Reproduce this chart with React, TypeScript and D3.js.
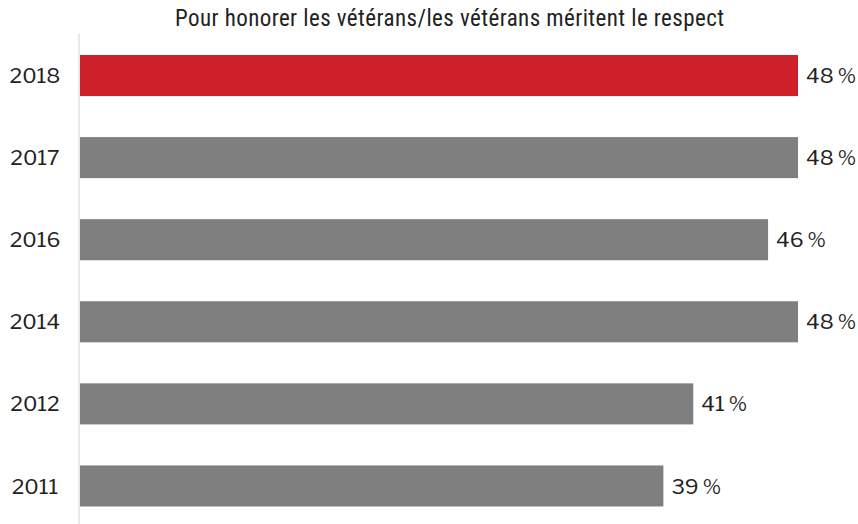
import React from "react";
import * as d3 from "d3";

const years = ["2018", "2017", "2016", "2014", "2012", "2011"];
const values = [48, 48, 46, 48, 41, 39];
const highlightYear = "2018";
const title = "Pour honorer les vétérans/les vétérans méritent le respect";

const W = 858;
const H = 524;

export default function App() {
  const x = d3.scaleLinear().domain([0, 48]).range([80, 798]);
  const y = d3
    .scaleBand<string>()
    .domain(years)
    .range([34.5, 527])
    .paddingInner(0.5)
    .paddingOuter(0.25);

  return (
    <svg
      width={W}
      height={H}
      style={{ position: "absolute", left: 0, top: 0, background: "#fff" }}
    >
      <text
        x={449.5}
        y={26}
        textAnchor="middle"
        fontFamily="'Liberation Sans Narrow', 'Roboto Condensed', 'Arial Narrow', sans-serif"
        fontSize={23}
        textLength={549}
        lengthAdjust="spacing"
        fill="#222"
      >
        {title}
      </text>
      <line x1={79} x2={79} y1={34} y2={524} stroke="#e0e0e0" strokeWidth={1.5} />
      {years.map((yr, i) => {
        const y0 = y(yr)!;
        const bh = y.bandwidth();
        return (
          <g key={yr}>
            <rect
              x={x(0)}
              y={y0}
              width={x(values[i]) - x(0)}
              height={bh}
              fill={yr === highlightYear ? "#cc212b" : "#7f7f7f"}
            />
            <text
              x={35}
              y={y0 + bh / 2}
              dy="0.36em"
              textAnchor="middle"
              fontFamily="'Libre Franklin', 'DejaVu Sans', sans-serif"
              fontSize={21}
              fill="#222"
            >
              {yr}
            </text>
            <text
              x={x(values[i]) + 8}
              y={y0 + bh / 2}
              dy="0.36em"
              fontFamily="'Libre Franklin', 'DejaVu Sans', sans-serif"
              fontSize={21}
              fill="#222"
            >
              {values[i]}
              <tspan fontSize={20} dx={4}>%</tspan>
            </text>
          </g>
        );
      })}
    </svg>
  );
}
